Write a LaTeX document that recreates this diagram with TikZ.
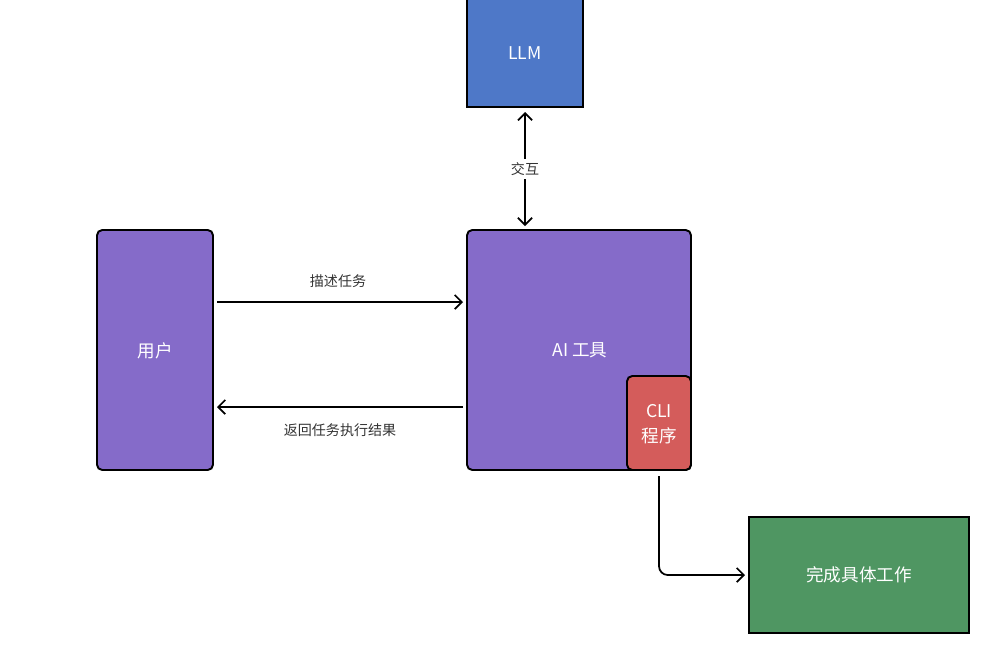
\documentclass[tikz,border=0pt]{standalone}
\usepackage{fontspec}
\setmainfont{Noto Sans CJK SC}
\usetikzlibrary{arrows.meta}
\definecolor{llmblue}{HTML}{4E78C8}
\definecolor{boxpurple}{HTML}{856BC9}
\definecolor{clired}{HTML}{D45C5B}
\definecolor{workgreen}{HTML}{4F9662}
\definecolor{labelgray}{HTML}{333333}
\tikzset{
  box/.style={draw=black, line width=1.1pt},
  rbox/.style={box, rounded corners=3pt},
  btxt/.style={text=white, font=\fontsize{10}{14}\selectfont, align=center},
  conn/.style={line width=1pt, -{Straight Barb[length=4pt,width=8pt]}},
  lbl/.style={text=labelgray, font=\fontsize{8}{10}\selectfont}
}
\begin{document}
\begin{tikzpicture}[x=0.02cm,y=-0.02cm]
\useasboundingbox (0,0) rectangle (1000,650);
% LLM
\draw[box, fill=llmblue] (467,-3) rectangle (583,107);
\node[btxt] (llm) at (525,53) {LLM};
% user
\draw[rbox, fill=boxpurple] (97,230) rectangle (213,470);
\node[btxt] (user) at (155,351) {用户};
% AI tool
\draw[rbox, fill=boxpurple] (467,230) rectangle (691,470);
\node[btxt] (ai) at (580,350) {AI 工具};
% CLI
\draw[rbox, fill=clired] (627,376) rectangle (691,470);
\node[btxt] (cli) at (659,424) {CLI\\程序};
% green
\draw[box, fill=workgreen] (749,517) rectangle (969,633);
\node[btxt] (work) at (859,575) {完成具体工作};
% connectors
\coordinate (llmArrow) at (525,112);
\coordinate (aiTop) at (525,226);
\node[lbl, fill=white, inner sep=2pt] (jh) at (525,169) {交互};
\draw[conn] (jh.north) -- (llmArrow);
\draw[conn] (jh.south) -- (aiTop);
\coordinate (u1) at (217,302);
\coordinate (a1) at (463,302);
\draw[conn] (u1) -- (a1);
\node[lbl] (l1) at (338,281) {描述任务};
\coordinate (a2) at (463,407);
\coordinate (u2) at (217,407);
\draw[conn] (a2) -- (u2);
\node[lbl] (l2) at (340,430) {返回任务执行结果};
\coordinate (c1) at (659,476);
\coordinate (w1) at (745,575);
\draw[conn, rounded corners=5pt] (c1) |- (w1);
\end{tikzpicture}
\end{document}
